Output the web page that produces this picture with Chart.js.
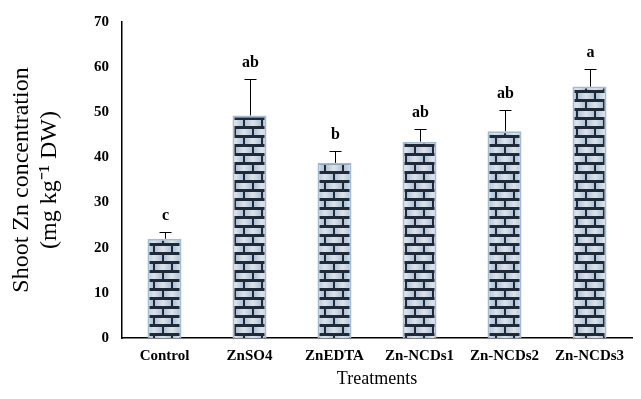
<!DOCTYPE html>
<html><head><meta charset="utf-8">
<script src="https://cdn.jsdelivr.net/npm/chart.js@4"></script>
<style>html,body{margin:0;padding:0;background:#fff}#wrap{width:641px;height:399px}</style>
</head><body><div id="wrap"><canvas id="c" width="641" height="399"></canvas></div>
<script>
const categories = ["Control","ZnSO4","ZnEDTA","Zn-NCDs1","Zn-NCDs2","Zn-NCDs3"];
const values = [22.0, 49.3, 38.8, 43.5, 45.8, 55.7];
const errors = [1.4, 8.0, 2.7, 2.7, 4.7, 3.8];
const letters = ["c","ab","b","ab","ab","a"];
const yTicks = [0,10,20,30,40,50,60,70];

function makePattern(){
  const t = document.createElement('canvas');
  t.width = 18; t.height = 18;
  const g = t.getContext('2d');
  g.fillStyle = '#1f2937'; g.fillRect(0,0,18,18);
  function brick(x,y,w,h){
    const gr = g.createLinearGradient(x,0,x+w,0);
    gr.addColorStop(0,'#afc3d7'); gr.addColorStop(0.5,'#dde3ea'); gr.addColorStop(1,'#afc3d7');
    g.fillStyle = gr; g.fillRect(x,y,w,h);
  }
  brick(2,3,16,6);
  brick(-7,12,16,6);
  brick(11,12,16,6);
  return g.createPattern(t,'repeat');
}
const ctx0 = document.getElementById('c').getContext('2d');
const pattern = makePattern();

const overlay = {
  id:'overlay',
  afterDatasetsDraw(chart){
    const ctx = chart.ctx, x = chart.scales.x, y = chart.scales.y;
    ctx.save();
    ctx.strokeStyle = '#000'; ctx.lineWidth = 1;
    values.forEach((v,i)=>{
      const cx = Math.round(x.getPixelForValue(i))+0.5;
      const yt = y.getPixelForValue(v), ye = Math.round(y.getPixelForValue(v+errors[i]))+0.5;
      ctx.beginPath(); ctx.moveTo(cx,yt); ctx.lineTo(cx,ye);
      ctx.moveTo(cx-6,ye); ctx.lineTo(cx+6,ye); ctx.stroke();
      ctx.fillStyle='#000'; ctx.font='bold 16px "Liberation Serif", serif';
      ctx.textAlign='center'; ctx.textBaseline='alphabetic';
      ctx.fillText(letters[i], cx, ye-13);
    });
    ctx.restore();
  }
};

new Chart(ctx0,{
  type:'bar',
  data:{labels:categories,datasets:[{data:values,backgroundColor:pattern,borderColor:'#a3bcd4',borderWidth:{left:2,right:2,top:2,bottom:0},borderSkipped:false,barPercentage:0.4,categoryPercentage:1}]},
  options:{
    responsive:false,animation:false,
    layout:{padding:{top:22,right:9,left:0,bottom:0}},
    plugins:{legend:{display:false},tooltip:{enabled:false}},
    scales:{
      x:{
        grid:{display:false,drawTicks:false},
        border:{color:'#000',width:1.5},
        ticks:{color:'#000',padding:9,font:{family:'"Liberation Serif", serif',size:15,weight:'bold'},maxRotation:0,autoSkip:false},
        title:{display:true,text:'Treatments',color:'#000',font:{family:'"Liberation Serif", serif',size:18},padding:{top:0,bottom:9}},
        afterFit(s){s.height=61;}
      },
      y:{
        min:0,max:70,
        afterBuildTicks(s){s.ticks=yTicks.map(v=>({value:v}));},
        grid:{display:false,drawTicks:true,tickLength:5,tickColor:'#000'},
        border:{color:'#000',width:1.5},
        ticks:{color:'#000',padding:8,font:{family:'"Liberation Serif", serif',size:15,weight:'bold'}},
        title:{display:true,text:['Shoot Zn concentration','(mg kg\u207B\u00B9 DW)'],color:'#000',font:{family:'"Liberation Serif", serif',size:24,lineHeight:1.17},padding:{top:8,bottom:0}},
        afterFit(s){s.width=122;}
      }
    }
  },
  plugins:[overlay]
});
</script></body></html>
